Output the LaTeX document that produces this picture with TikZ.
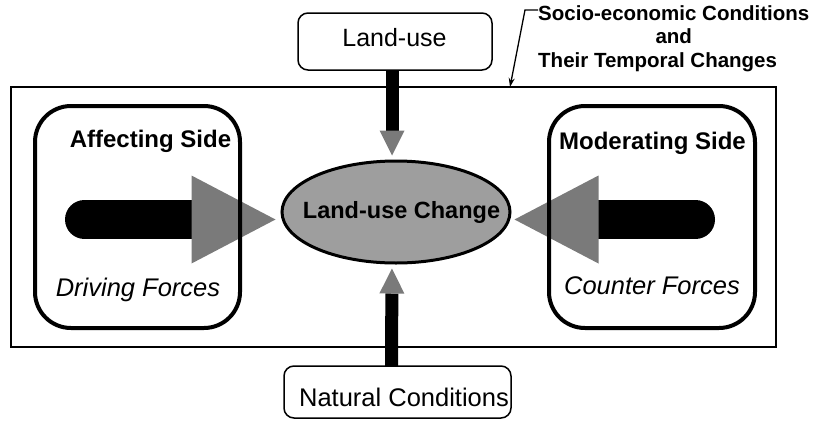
\documentclass[tikz,border=0pt]{standalone}
\usepackage{fontspec}
\setmainfont{Liberation Sans}
\usetikzlibrary{arrows.meta,shapes.geometric}
\newcommand\txtsz[1]{\fontsize{#1}{#1}\selectfont}
\definecolor{tipgray}{gray}{0.48}
\definecolor{ovalgray}{gray}{0.62}

\begin{document}
\begin{tikzpicture}[x=1pt,y=-1pt,
  frame/.style={draw, line width=1.6pt, inner sep=0pt, outer sep=0pt},
  sidebox/.style={draw, line width=4pt, rounded corners=36pt, inner sep=0pt, outer sep=0pt},
  inbox/.style={draw, fill=white, line width=1.5pt, rounded corners=10pt, inner sep=0pt, outer sep=0pt},
  lbl/.style={inner sep=0pt, anchor=base},
  hforce/.style={line width=39pt, line cap=round,
    -{Triangle[length=84pt, width=88pt, line width=0pt, color=tipgray, fill=tipgray]}},
  vforce/.style={line width=13pt,
    -{Triangle[length=25pt, width=25pt, line width=0pt, color=tipgray, fill=tipgray]}},
  callarrow/.style={line width=1.3pt, -{Stealth[length=9pt, width=6pt]}}
]
\useasboundingbox (0,0) rectangle (817,421);

% outer frame: socio-economic conditions
\node[frame, minimum width=765pt, minimum height=260pt] (frame) at (393.5,217) {};

% central ellipse (text kept out of the shape's size)
\node[ellipse, draw, line width=3pt, fill=ovalgray, minimum width=228pt, minimum height=102pt,
      inner sep=0pt, font=\bfseries\txtsz{23.5}] (chg) at (396,212)
  {\makebox[0pt]{\hspace*{11pt}Land-use Change}};

% top and bottom boxes
\node[inbox, minimum width=194pt, minimum height=57pt] (lu) at (395,41.5) {};
\node[lbl, font=\txtsz{25}] (lutxt) at (394.5,46.5) {Land-use};
\node[inbox, minimum width=227pt, minimum height=52pt] (nat) at (397.5,392) {};
\node[lbl, font=\txtsz{25.5}] (nattxt) at (404,406.5) {Natural Conditions};

% forces
\coordinate (lfs) at (84.5,219.5);
\coordinate (rfs) at (695.5,219.5);
\draw[hforce, shorten >=5pt] (lfs) -- (lfs -| chg.west);
\draw[hforce, shorten >=3pt] (rfs) -- (rfs -| chg.east);
\draw[vforce, shorten >=4pt] ([xshift=-3pt]lu.south) -- ([xshift=-4pt]chg.north);
\draw[vforce, shorten >=4pt] ([xshift=-6pt]nat.north) -- ([xshift=-4pt]chg.south);

% side boxes
\node[sidebox, minimum width=205pt, minimum height=222pt] (aff) at (137.5,217) {};
\node[sidebox, minimum width=206pt, minimum height=222pt] (mod) at (652,217) {};
\node[lbl, font=\bfseries\txtsz{24}] (afftxt) at (150.5,147.5) {Affecting Side};
\node[lbl, font=\itshape\txtsz{25.5}] (drvtxt) at (138,296) {Driving Forces};
\node[lbl, font=\bfseries\txtsz{24}] (modtxt) at (652.5,149.5) {Moderating Side};
\node[lbl, font=\itshape\txtsz{25.5}] (cnttxt) at (652,294.5) {Counter Forces};

% callout
\node[inner sep=0pt, anchor=north west, font=\bfseries\fontsize{20.5}{23.5}\selectfont] (sec) at (538,3.5)
  {\begin{tabular}{@{}l@{}}Socio-economic Conditions\\ \multicolumn{1}{@{}c@{}}{and}\\ Their Temporal Changes\end{tabular}};
\coordinate (bend) at (525,10);
\coordinate (calltip) at (510,87);
\draw[callarrow] (sec.west |- bend) -- (bend) -- (calltip);
\end{tikzpicture}
\end{document}
